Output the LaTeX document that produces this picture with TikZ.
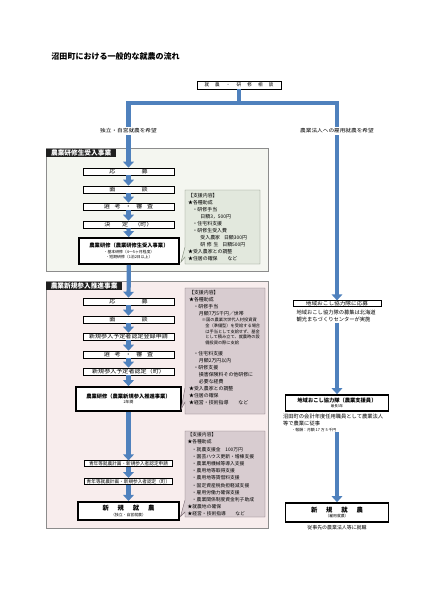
\documentclass[tikz,border=0pt]{standalone}
\usepackage{fontspec}
\setmainfont{Noto Sans CJK JP}
\newfontfamily\widejp{Noto Sans CJK JP}[FakeStretch=1.15]
\usetikzlibrary{arrows.meta,positioning}
\definecolor{flowBlue}{RGB}{79,129,189}
\definecolor{secGreen}{RGB}{244,246,240}
\definecolor{secPink}{RGB}{248,237,237}
\definecolor{supGreen}{RGB}{226,232,221}
\definecolor{supGreenLine}{RGB}{125,135,118}
\definecolor{supMauve}{RGB}{216,204,208}
\definecolor{supMauveLine}{RGB}{120,104,112}
\newcommand{\fs}[2]{\fontsize{#1}{#2}\selectfont}

\begin{document}
\begin{tikzpicture}[x=0.05cm, y=-0.05cm,
  stepbox/.style={draw, line width=0.8pt, fill=white, inner sep=0pt,
    minimum width=4.55cm, minimum height=0.35cm, font=\widejp\fs{7.5}{8}},
  smallbox/.style={draw, line width=0.8pt, fill=white, inner sep=0pt,
    minimum width=4.4cm, minimum height=0.3cm, font=\fs{6.6}{7}},
  mainbox/.style={draw, line width=2.4pt, fill=white, inner sep=0pt, align=center},
  flowline/.style={flowBlue, line width=6.5pt, line join=miter},
  flowarrow/.style={flowBlue, line width=6pt, -{Triangle[width=15pt,length=8.5pt]}},
  sechead/.style={fill=black!88, text=white, font=\fs{9.5}{10}\bfseries,
    inner sep=0pt, minimum height=0.4cm, anchor=north west},
  wish/.style={inner sep=2.5pt, font=\widejp\fs{7}{8}},
  support/.style={anchor=north west, align=left, inner sep=0pt},
  note/.style={anchor=north west, align=left, inner sep=0pt}
]
\useasboundingbox (0,0) rectangle (424,600);

% title and first branch
\node[anchor=west, font=\fs{11.4}{12}\bfseries] (title) at (49,56) {沼田町における一般的な就農の流れ};
\node[draw, line width=0.8pt, minimum width=4.2cm, minimum height=0.4cm, inner sep=0pt,
  font=\fs{6.5}{7}] (consult) at (239,85)
  {就\hspace{1.35em}農\hspace{1.35em}・\hspace{1.35em}研\hspace{1.35em}修\hspace{1.35em}相\hspace{1.35em}談};
\coordinate (barL) at (128.5,103);
\coordinate (barR) at (337,103);
\node[wish] (wishL) at (128.5,131) {独立・自営就農を希望};
\node[wish] (wishR) at (337,131) {農業法人への雇用就農を希望};

% section 1: trainee program
\filldraw[fill=secGreen, draw=black!45, line width=0.6pt] (46,148) rectangle (268,271);
\node[sechead, minimum width=3.5cm] (head1) at (46,148.5) {農業研修生受入事業};
\node[stepbox] (apply1) at (128.5,171.5) {応\hspace{5em}募};
\node[stepbox] (talk1) at (128.5,189.5) {面\hspace{5em}談};
\node[stepbox] (select1) at (128.5,206.5) {選\hspace{0.9em}考\hspace{0.9em}・\hspace{0.9em}審\hspace{0.9em}査};
\node[stepbox] (decide1) at (128.5,224.5) {決\hspace{2.2em}定\hspace{1.2em}（町）};
\node[mainbox, minimum width=5cm, minimum height=1.3cm, font=\fs{5.5}{7.5}] (train1) at (129,251)
  {{\fs{7.5}{9}\bfseries 農業研修（農業研修生受入事業）}\\[1.5pt]
   ・基本研修（4～5ヶ月程度）\\ ・短期研修（1泊2日以上）};
\filldraw[fill=supGreen, draw=supGreenLine, line width=0.6pt]
  (185,190) -- (260,190) -- (260,264) -- (185,264) -- (185,257) -- (181,262) -- (185,247) -- cycle;
\node[support, font=\fs{7}{10}] (sup1) at (188,193)
  {【支援内容】\\
   ★各種助成\\
   \hspace{0.9em}・研修手当\\
   \hspace{2.5em}日額3，500円\\
   \hspace{0.9em}・住宅料支援\\
   \hspace{0.9em}・研修生受入費\\
   \hspace{2.5em}受入農家\hspace{0.8em}日額300円\\
   \hspace{2.5em}研\hspace{0.33em}修\hspace{0.33em}生\hspace{0.8em}日額500円\\
   ★受入農家との調整\\
   ★住居の確保\hspace{2em}など};

% section 2: new entrant program
\filldraw[fill=secPink, draw=black!45, line width=0.6pt] (46,281) rectangle (268,528);
\node[sechead, minimum width=3.8cm] (head2) at (46,281.5) {農業新規参入推進事業};
\node[stepbox] (apply2) at (128.5,301.5) {応\hspace{5em}募};
\node[stepbox] (talk2) at (128.5,319.5) {面\hspace{5em}談};
\node[stepbox] (register2) at (128.5,336.5) {新規参入予定者認定登録申請};
\node[stepbox] (select2) at (128.5,354.5) {選\hspace{0.9em}考\hspace{0.9em}・\hspace{0.9em}審\hspace{0.9em}査};
\node[stepbox] (certify2) at (128.5,371.5) {新規参入予定者認定（町）};
\node[mainbox, minimum width=5.25cm, minimum height=1.2cm, font=\fs{5.5}{7.5}] (train2) at (128.5,399)
  {{\fs{7.5}{9}\bfseries 農業研修（農業新規参入推進事業）}\\[0.5pt] 2年間};
\filldraw[fill=supMauve, draw=supMauveLine, line width=0.6pt]
  (185,288) -- (265,288) -- (265,414) -- (185,414) -- (185,402) -- (181,409.5) -- (185,388) -- cycle;
\node[support, font=\fs{7}{9.8}] (sup2) at (189,290.5)
  {【支援内容】\\
   ★各種助成\\
   \hspace{0.9em}・研修手当\\
   \hspace{2em}月額7万5千円／世帯\\[-1pt]
   \hspace{2.6em}{\fs{6}{8}※国の農業次世代人材投資資}\\[-1.6pt]
   \hspace{3.3em}{\fs{6}{8}金（準備型）を受給する場合}\\[-1.6pt]
   \hspace{3.3em}{\fs{6}{8}は手当として支給せず、基金}\\[-1.6pt]
   \hspace{3.3em}{\fs{6}{8}として積み立て、就農時の設}\\[-1.6pt]
   \hspace{3.3em}{\fs{6}{8}備投資の際に支給}\\[6pt]
   \hspace{0.9em}・住宅料支援\\
   \hspace{2em}月額2万円以内\\
   \hspace{0.9em}・研修支援\\
   \hspace{2em}損害保険料その他研修に\\
   \hspace{2em}必要な経費\\
   ★受入農家との調整\\
   ★住居の確保\\
   ★経営・技術指導\hspace{2em}など};

\node[smallbox] (plan2) at (128.5,463.7) {青年等就農計画・新規参入者認定申請};
\node[smallbox] (plan2cert) at (128.5,481.3) {青年等就農計画・新規参入者認定（町）};
\node[mainbox, minimum width=5.05cm, minimum height=0.92cm, font=\fs{5.5}{7}] (start2) at (128.5,511)
  {{\fs{9}{10}\bfseries 新\hspace{1.4em}規\hspace{1.4em}就\hspace{1.4em}農}\\[0.5pt] （独立・自営就農）};
\filldraw[fill=supMauve, draw=supMauveLine, line width=0.6pt]
  (185,431) -- (265,431) -- (265,517) -- (185,517) -- (185,512) -- (180.5,516.5) -- (185,500) -- cycle;
\node[support, font=\fs{6.8}{10.25}] (sup3) at (187.5,432.5)
  {【支援内容】\\
   ★各種助成\\
   \hspace{0.9em}・就農支援金\hspace{1em}100万円\\
   \hspace{0.9em}・園芸ハウス更新・増棟支援\\
   \hspace{0.9em}・農業用機械等導入支援\\
   \hspace{0.9em}・農用地等取得支援\\
   \hspace{0.9em}・農用地等賃借料支援\\
   \hspace{0.9em}・固定資産税負担軽減支援\\
   \hspace{0.9em}・雇用労働力確保支援\\
   \hspace{0.9em}・農業関係制度資金利子助成\\
   ★就農地の確保\\
   ★経営・技術指導\hspace{2em}など};

% right column: employed farming
\node[draw, line width=0.8pt, fill=white, inner sep=0pt, minimum width=4.4cm, minimum height=0.3cm,
  font=\widejp\fs{7}{7.5}] (applyR) at (337,303.7) {地域おこし協力隊に応募};
\node[note, font=\fs{7.5}{10.5}] (noteR1) at (296.5,310)
  {地域おこし協力隊の募集は北海道\\ 観光まちづくりセンターが実施};
\node[mainbox, minimum width=5.15cm, minimum height=0.8cm, font=\fs{5}{6.5}] (memberR) at (337,403)
  {{\fs{7.5}{9}\bfseries 地域おこし協力隊（農業支援員）}\\ 最長3年};
\node[note, font=\fs{7.5}{9.4}] (noteR2) at (283,413.8)
  {沼田町の会計年度任用職員として農業法人\\ 等で農業に従事\\
   \hspace{1.6em}{\fs{5.5}{7}・報酬：月額 17 万 5 千円}};
\node[mainbox, minimum width=5.15cm, minimum height=0.95cm, font=\fs{5.5}{7}] (startR) at (337,512.5)
  {{\fs{9}{10}\bfseries 新\hspace{1.4em}規\hspace{1.4em}就\hspace{1.4em}農}\\[0.5pt] （雇用就農）};
\node[inner sep=0pt, font=\fs{7}{8}] (noteR3) at (337,527.5) {従事先の農業法人等に就職};

% connectors
\draw[flowline] (consult.south) -- (consult.south |- barL);
\draw[flowline] (wishL.north) -- (barL) -- (barR) -- (wishR.north);
\draw[flowarrow] (wishL.south) -- (apply1.north);
\draw[flowarrow] (apply1) -- (talk1);
\draw[flowarrow] (talk1) -- (select1);
\draw[flowarrow] (select1) -- (decide1);
\draw[flowarrow] (decide1) -- (train1);
\draw[flowarrow] (train1) -- (apply2);
\draw[flowarrow] (apply2) -- (talk2);
\draw[flowarrow] (talk2) -- (register2);
\draw[flowarrow] (register2) -- (select2);
\draw[flowarrow] (select2) -- (certify2);
\draw[flowarrow] (certify2) -- (train2);
\draw[flowarrow] (train2) -- (plan2);
\draw[flowarrow] (plan2) -- (plan2cert);
\draw[flowarrow] (plan2cert) -- (start2);
\draw[flowarrow] (wishR.south) -- (applyR.north);
\draw[flowarrow] (noteR1.south -| barR) -- (memberR.north);
\draw[flowarrow] (noteR2.south -| barR) -- (startR.north);
\end{tikzpicture}
\end{document}
